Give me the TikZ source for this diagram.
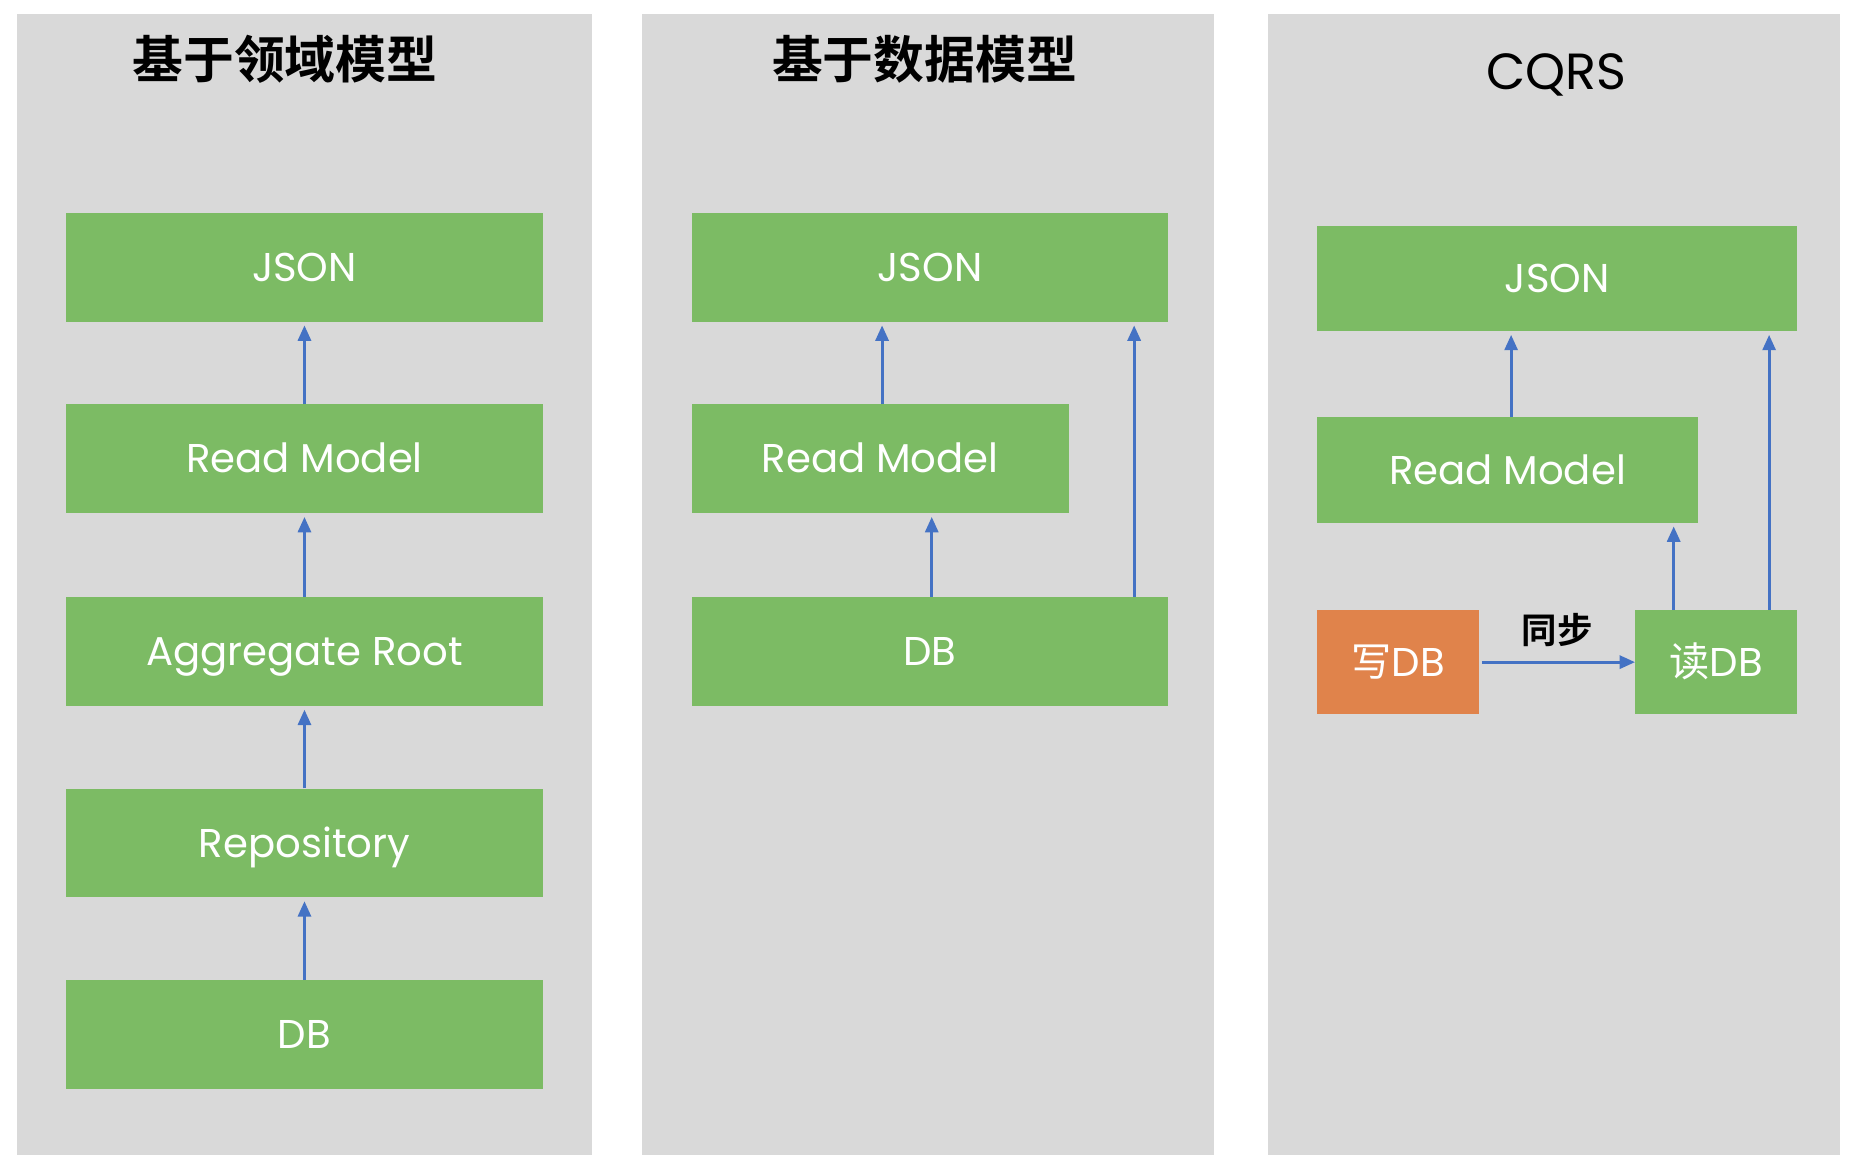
\documentclass[tikz,border=0pt]{standalone}
\usepackage{fontspec}
\setmainfont{Poppins}
\newfontfamily\cjk{Noto Sans CJK SC}
\newfontfamily\cjkb{Noto Sans CJK SC Bold}
\usetikzlibrary{arrows.meta}
\definecolor{panelgray}{HTML}{D9D9D9}
\definecolor{boxgreen}{HTML}{7CBB64}
\definecolor{boxorange}{HTML}{E0834B}
\definecolor{arrowblue}{HTML}{4472C4}
\tikzset{
  panel/.style={fill=panelgray, draw=none},
  gbox/.style={fill=boxgreen, draw=none, text=white, inner sep=0pt, text height=24pt, text depth=0pt, font=\fontsize{34}{40}\selectfont},
  obox/.style={fill=boxorange, draw=none, text=white, inner sep=0pt, text height=24pt, text depth=0pt, font=\fontsize{34}{40}\selectfont},
  arr/.style={draw=arrowblue, line width=2.5pt, -{Triangle[length=13pt,width=11pt]}, shorten >=3pt},
  ttl/.style={font=\cjkb\fontsize{43}{48}\selectfont, text=black, inner sep=0pt},
}
\begin{document}
\begin{tikzpicture}[x=1pt,y=-1pt]
\useasboundingbox[fill=white] (0,0) rectangle (1568,988);
% panels
\fill[panel] (14,12) rectangle (501,977);
\fill[panel] (543,12) rectangle (1027,977);
\fill[panel] (1072,12) rectangle (1556,977);
% titles
\node[ttl] (t1) at (241,50) {基于领域模型};
\node[ttl] (t2) at (782,50) {基于数据模型};
\node[font=\fontsize{43}{50}\selectfont, inner sep=0pt] (t3) at (1316,63) {CQRS};
% panel 1
\node[gbox, minimum width=403pt, minimum height=92pt] (a1) at (257.5,226) {JSON};
\node[gbox, minimum width=403pt, minimum height=92pt] (a2) at (257.5,388) {Read Model};
\node[gbox, minimum width=403pt, minimum height=92pt] (a3) at (257.5,551) {Aggregate Root};
\node[gbox, minimum width=403pt, minimum height=92pt] (a4) at (257.5,713) {Repository};
\node[gbox, minimum width=403pt, minimum height=92pt] (a5) at (257.5,875) {DB};
\draw[arr] (a2.north) -- (a1.south);
\draw[arr] (a3.north) -- (a2.south);
\draw[arr] (a4.north) -- (a3.south);
\draw[arr] (a5.north) -- (a4.south);
% panel 2
\node[gbox, minimum width=403pt, minimum height=92pt] (b1) at (786.5,226) {JSON};
\node[gbox, minimum width=319pt, minimum height=92pt] (b2) at (744.5,388) {Read Model};
\node[gbox, minimum width=403pt, minimum height=92pt] (b3) at (786.5,551) {DB};
\draw[arr] ([xshift=1.5pt]b2.north) -- ([xshift=1.5pt]b2.north |- b1.south);
\draw[arr] ([xshift=1.5pt]b3.north) -- ([xshift=1.5pt]b3.north |- b2.south);
\draw[arr] ([xshift=-29pt]b3.north east) -- ([xshift=-29pt]b1.south east);
% panel 3
\node[gbox, minimum width=406pt, minimum height=89pt] (c1) at (1317,235.5) {JSON};
\node[gbox, minimum width=322pt, minimum height=89pt] (c2) at (1275,397.5) {Read Model};
\node[obox, minimum width=137pt, minimum height=88pt] (c3) at (1182.5,560) {{\cjk 写}DB};
\node[gbox, minimum width=137pt, minimum height=88pt] (c4) at (1451.5,560) {{\cjk 读}DB};
\draw[arr] ([xshift=3pt]c2.north) -- ([xshift=3pt]c2.north |- c1.south);
\draw[arr] ([xshift=-36pt]c4.north) -- ([xshift=-36pt]c4.north |- c2.south);
\draw[arr] ([xshift=-24pt]c4.north east) -- ([xshift=-24pt]c1.south east);
\draw[arr, shorten >=0pt, shorten <=2pt] (c3.east) -- node[above=12pt, font=\cjkb\fontsize{30}{34}\selectfont, text=black, inner sep=0pt] (sync) {同步} (c4.west);
\end{tikzpicture}
\end{document}
